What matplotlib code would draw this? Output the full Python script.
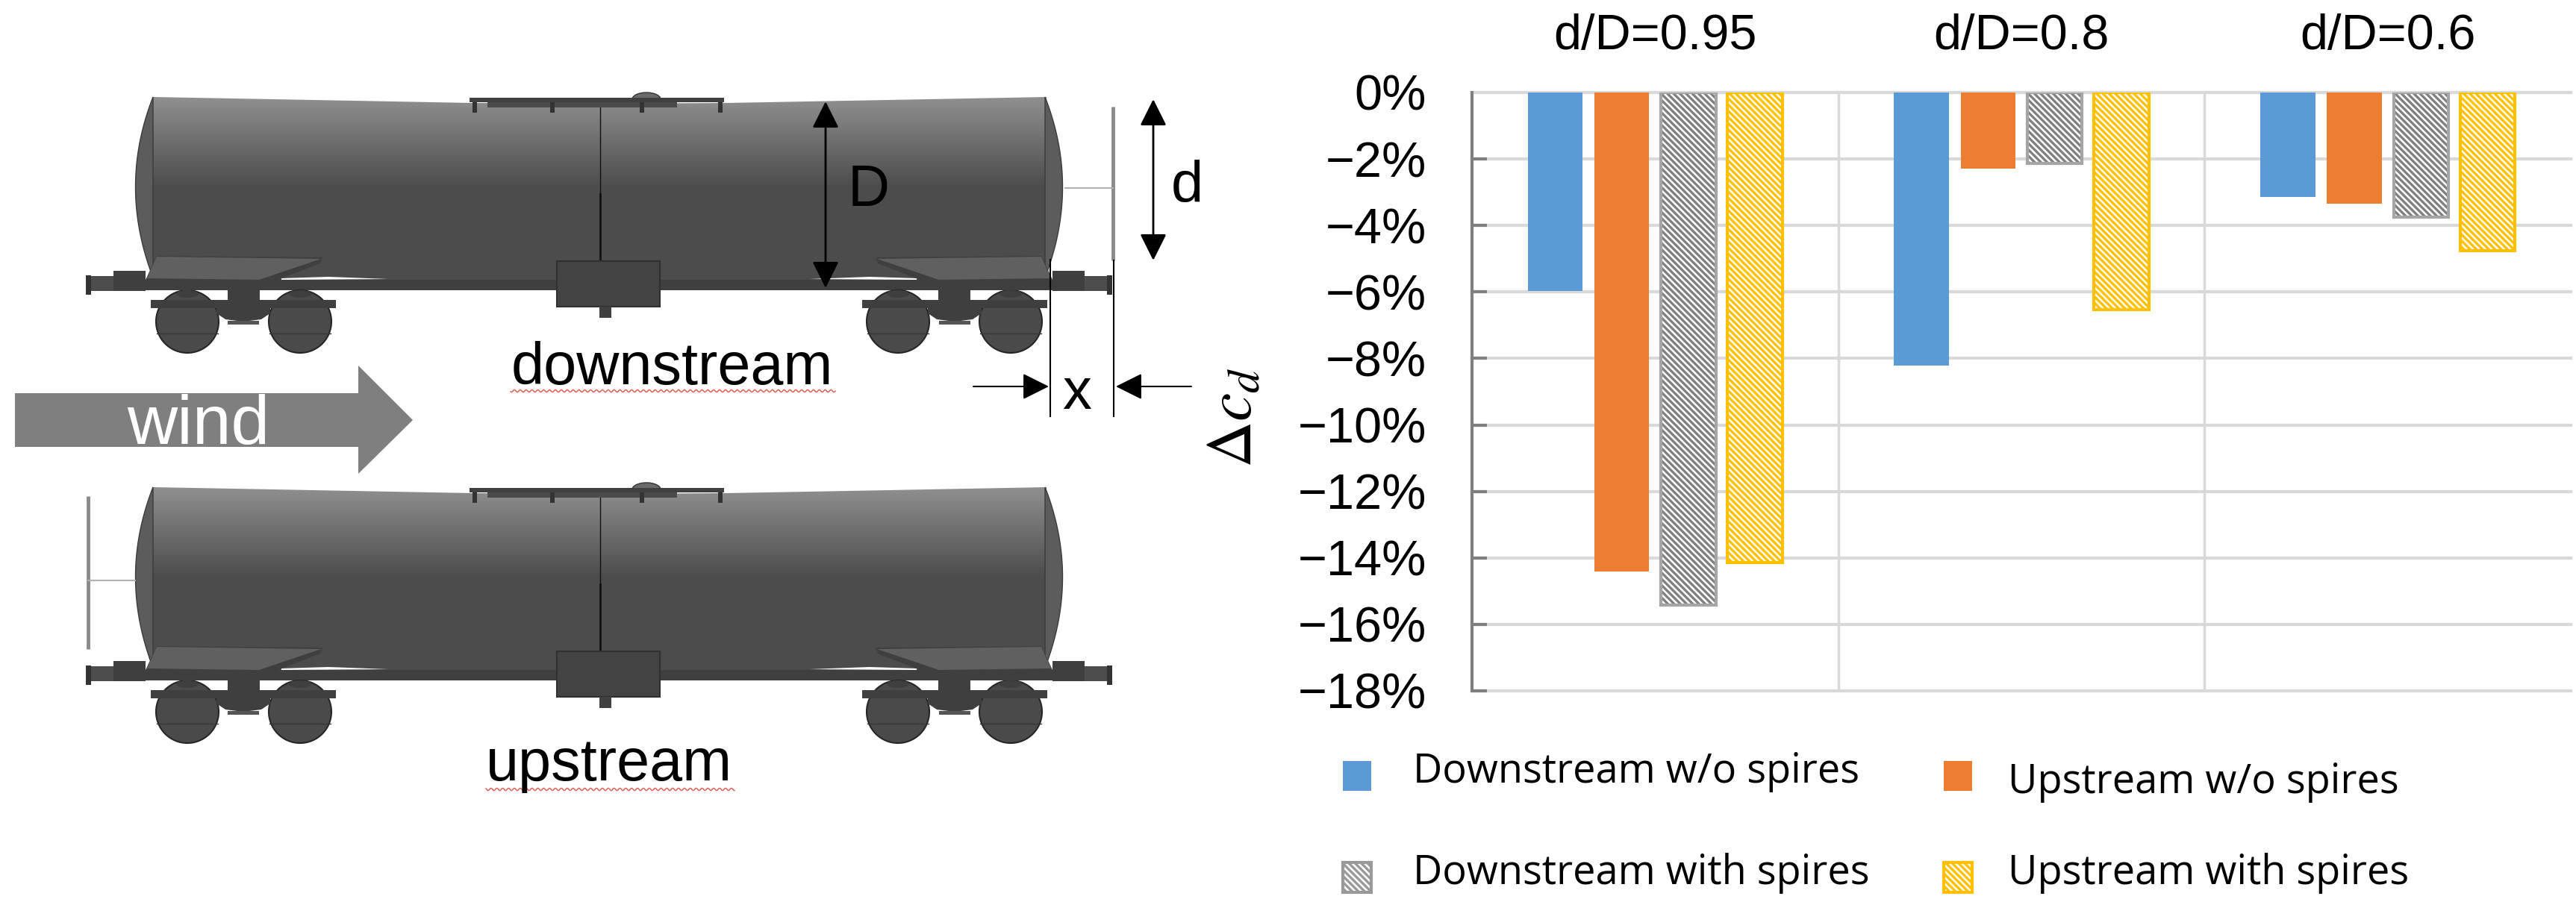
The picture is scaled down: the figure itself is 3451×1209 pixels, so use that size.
import numpy as np
import matplotlib
matplotlib.use('Agg')
import matplotlib.pyplot as plt
from matplotlib.patches import Polygon, Rectangle, Ellipse, Circle

W, H = 3451, 1209

# chart data (percent)
groups = ['d/D=0.95', 'd/D=0.8', 'd/D=0.6']
down_no_spires = [-5.97, -8.22, -3.15]
up_no_spires = [-14.4, -2.28, -3.34]
down_spires = [-15.43, -2.13, -3.75]
up_spires = [-14.13, -6.54, -4.76]
y_ticks = [0, -2, -4, -6, -8, -10, -12, -14, -16, -18]
y_labels = ['0%', '\u22122%', '\u22124%', '\u22126%', '\u22128%', '\u221210%',
            '\u221212%', '\u221214%', '\u221216%', '\u221218%']

BLUE = '#5b9bd5'
ORANGE = '#ed7d31'
GREY = '#a5a5a5'
GOLD = '#ffc000'
SANS = 'Liberation Sans'
HATCH = '\\\\\\\\'

plt.rcParams['font.family'] = SANS
plt.rcParams['mathtext.fontset'] = 'stix'
plt.rcParams['hatch.linewidth'] = 2.4

fig = plt.figure(figsize=(W / 100, H / 100), dpi=100, facecolor='white')

# full-figure axes in pixel coordinates for the wagon sketch
ov = fig.add_axes([0, 0, 1, 1])
ov.set_xlim(0, W)
ov.set_ylim(H, 0)
ov.axis('off')


def curve(p0, c, p1):
    t = np.linspace(0, 1, 40)
    x = (1 - t) ** 2 * p0[0] + 2 * t * (1 - t) * c[0] + t ** 2 * p1[0]
    y = (1 - t) ** 2 * p0[1] + 2 * t * (1 - t) * c[1] + t ** 2 * p1[1]
    return list(zip(x, y))


def wagon(dy):
    top = [(205, 130), (420, 134), (632, 138), (804, 139), (973, 138), (1190, 134), (1402, 130)]
    bottom = [(1402, 380), (205, 380)]
    tank = Polygon([(x, y + dy) for x, y in top + bottom], closed=True, fc='none', ec='none')
    ov.add_patch(tank)
    shade = np.concatenate([np.linspace(0.56, 0.30, 120), np.full(130, 0.30)]).reshape(-1, 1)
    im = ov.imshow(shade, cmap='gray', vmin=0, vmax=1, aspect='auto',
                   extent=(205, 1402, 380 + dy, 130 + dy), zorder=1)
    im.set_clip_path(tank)
    ov.set_xlim(0, W)
    ov.set_ylim(H, 0)

    def both(pts, **kw):
        # every part of the wagon is symmetric about x=802.5
        ov.add_patch(Polygon([(x, y + dy) for x, y in pts], closed=True, **kw))
        ov.add_patch(Polygon([(1605 - x, y + dy) for x, y in pts], closed=True, **kw))

    dark = '#3f3f3f'
    both(curve((205, 130), (158, 250), (205, 372)), fc='#5c5c5c', ec='#3a3a3a', lw=1, zorder=2)
    # underframe and buffers
    ov.add_patch(Rectangle((195, 375 + dy), 1215, 14, fc=dark, ec='none', zorder=2))
    both([(152, 363), (195, 363), (195, 390), (152, 390)], fc=dark, ec='none', zorder=3)
    both([(122, 370), (152, 370), (152, 390), (122, 390)], fc='#4d4d4d', ec='none', zorder=3)
    both([(115, 369), (122, 369), (122, 395), (115, 395)], fc='#333333', ec='none', zorder=3)
    # white sliver over the frame
    both([(377, 373), (440, 371), (520, 374), (377, 375)], fc='white', ec='none', zorder=3)
    # end platforms
    both([(195, 375), (210, 343), (432, 345), (429, 353), (347, 385), (347, 389), (195, 389)],
         fc=dark, ec='none', zorder=4)
    both([(197, 373), (210, 344), (430, 347), (347, 375)], fc='#606060', ec='none', zorder=5)
    # bogie
    both([(305, 388), (348, 388), (348, 402), (305, 402)], fc=dark, ec='none', zorder=3)
    both([(202, 402), (450, 402), (450, 413), (202, 413)], fc=dark, ec='none', zorder=4)
    both([(290, 402), (362, 402), (362, 420), (350, 428), (326, 431), (302, 428), (290, 420)],
         fc=dark, ec='none', zorder=4)
    both([(305, 430), (347, 430), (347, 435), (305, 435)], fc='#555555', ec='none', zorder=4)
    for cx in (251, 402, 1203, 1354):
        ov.add_patch(Circle((cx, 431 + dy), 42, fc='#4a4a4a', ec='#262626', lw=1.5, zorder=3))
        ov.plot([cx - 41, cx + 41], [447 + dy, 447 + dy], color='#383838', lw=1, zorder=4)
        ov.add_patch(Ellipse((cx, 394 + dy), 30, 10, fc=dark, ec='none', zorder=3))
    # middle box
    ov.add_patch(Rectangle((746, 350 + dy), 138, 61, fc='#434343', ec='#303030', lw=1.5, zorder=5))
    ov.add_patch(Rectangle((803, 411 + dy), 16, 15, fc='#404040', ec='none', zorder=5))
    ov.plot([804, 804], [144 + dy, 260 + dy], color='#111111', lw=1, zorder=3)
    ov.plot([804, 804], [260 + dy, 350 + dy], color='#111111', lw=2, zorder=3)
    # dome plate on top
    ov.add_patch(Ellipse((866, 133 + dy), 38, 18, fc='#6a6a6a', ec='#333333', lw=1, zorder=3))
    ov.add_patch(Rectangle((629, 131 + dy), 341, 6, fc='#404040', ec='none', zorder=4))
    ov.add_patch(Rectangle((653, 137 + dy), 254, 7, fc='#4a4a4a', ec='none', zorder=4))
    for lx in (633, 737, 857, 962):
        ov.add_patch(Rectangle((lx, 137 + dy), 6, 14, fc='#333333', ec='none', zorder=4))


def wavy(x0, x1, y):
    xs = np.arange(x0, x1, 1.0)
    ov.plot(xs, y + 1.6 * np.sin(xs * 0.8), color='#e0605a', lw=1.1)


def v_arrow(x, y0, y1, style='<|-|>'):
    ov.annotate('', xy=(x, y1), xytext=(x, y0),
                arrowprops=dict(arrowstyle=style + ',head_length=1.1,head_width=0.55',
                                mutation_scale=20, color='black', lw=2, shrinkA=0, shrinkB=0))


wagon(0)
wagon(523)

# spires
ov.plot([1491, 1491], [143, 349], color='#8a8a8a', lw=3.5, solid_capstyle='butt')
ov.plot([1427, 1491], [252, 252], color='#b0b0b0', lw=1.5)
ov.plot([118, 118], [665, 870], color='#8a8a8a', lw=3.5, solid_capstyle='butt')
ov.plot([118, 181], [778, 778], color='#b0b0b0', lw=1.5)

# dimension arrows
v_arrow(1106, 136, 386)
v_arrow(1545, 133, 349)
ov.plot([1407, 1407], [348, 558], color='black', lw=1.5, zorder=6)
ov.plot([1492, 1492], [349, 558], color='black', lw=1.5, zorder=6)
ov.annotate('', xy=(1405, 518), xytext=(1304, 518),
            arrowprops=dict(arrowstyle='-|>,head_length=1.1,head_width=0.55', mutation_scale=20,
                            color='black', lw=1.5, shrinkA=0, shrinkB=0))
ov.annotate('', xy=(1495, 518), xytext=(1596, 518),
            arrowprops=dict(arrowstyle='-|>,head_length=1.1,head_width=0.55', mutation_scale=20,
                            color='black', lw=1.5, shrinkA=0, shrinkB=0))
ov.text(1164, 256, 'D', fontsize=56, ha='center', va='center', zorder=7)
ov.text(1590, 250, 'd', fontsize=56, ha='center', va='center')
ov.text(1443, 527, 'x', fontsize=56, ha='center', va='center')

# wind arrow
ov.add_patch(Polygon([(20, 527), (480, 527), (480, 490), (553, 563), (480, 635), (480, 599), (20, 599)],
                     closed=True, fc='#7f7f7f', ec='none'))
ov.text(266, 595, 'wind', fontsize=67, color='white', ha='center', va='baseline')

ov.text(900, 515, 'downstream', fontsize=57, ha='center', va='baseline')
wavy(684, 1120, 524)
ov.text(816, 1046, 'upstream', fontsize=57, ha='center', va='baseline')
wavy(651, 985, 1058)

# bar chart
left, right, top, bottom = 1972, 3444, 124, 926
ax = fig.add_axes([left / W, 1 - bottom / H, (right - left) / W, (bottom - top) / H])
ax.patch.set_alpha(0)
centers = np.arange(len(groups)) + 0.5
step = 0.182
width = 0.15

ax.bar(centers - 1.5 * step, down_no_spires, width, color=BLUE, zorder=3)
ax.bar(centers - 0.5 * step, up_no_spires, width, color=ORANGE, zorder=3)
ax.bar(centers + 0.5 * step, down_spires, width, color='white', edgecolor='#808080',
       hatch=HATCH, lw=0, zorder=3)
ax.bar(centers + 0.5 * step, down_spires, width, fill=False, edgecolor=GREY, lw=3, zorder=4)
ax.bar(centers + 1.5 * step, up_spires, width, color='white', edgecolor=GOLD,
       hatch=HATCH, lw=3, zorder=3)

ax.set_xlim(0, 3)
ax.set_ylim(-18, 0)
ax.set_yticks(y_ticks)
ax.set_yticklabels(y_labels)
ax.xaxis.tick_top()
ax.set_xticks(centers)
ax.set_xticklabels(groups)
ax.set_xticks([1, 2], minor=True)
ax.tick_params(axis='x', which='both', length=0, labelsize=48, pad=32)
ax.tick_params(axis='y', direction='in', length=14.5, width=3, color='#7f7f7f', labelsize=48, pad=44)
ax.yaxis.get_major_ticks()[0].tick1line.set_visible(False)
ax.grid(axis='y', color='#d9d9d9', lw=3, clip_on=False, zorder=1)
ax.grid(axis='x', which='minor', color='#d9d9d9', lw=2.5, zorder=1)
ax.set_axisbelow(True)
for s in ['top', 'right', 'bottom']:
    ax.spines[s].set_visible(False)
ax.spines['left'].set_color('#7f7f7f')
ax.spines['left'].set_linewidth(3)

ax.set_ylabel(r'$\Delta c_d$', fontsize=62)
ax.yaxis.set_label_coords((1694 - left) / (right - left), 1 - (560 - top) / (bottom - top))

# legend, placed by hand as in the original
key_style = [dict(fc=BLUE, ec='none'), dict(fc=ORANGE, ec='none'),
             dict(fc='white', ec='#999999', hatch=HATCH, lw=3), dict(fc='white', ec=GOLD, hatch=HATCH, lw=3)]
key_xy = [(1799, 1020), (2604, 1020), (1799, 1156), (2604, 1156)]
names = ['Downstream w/o spires', 'Upstream w/o spires', 'Downstream with spires', 'Upstream with spires']
name_xy = [(1893, 1049), (2690, 1063), (1893, 1185), (2690, 1185)]
for style, kxy, name, nxy in zip(key_style, key_xy, names, name_xy):
    ov.add_patch(Rectangle(kxy, 38, 40, **style))
    ov.text(nxy[0], nxy[1], name, fontsize=39, family='Open Sans', ha='left', va='baseline')

fig.savefig('out.png', dpi=100)
